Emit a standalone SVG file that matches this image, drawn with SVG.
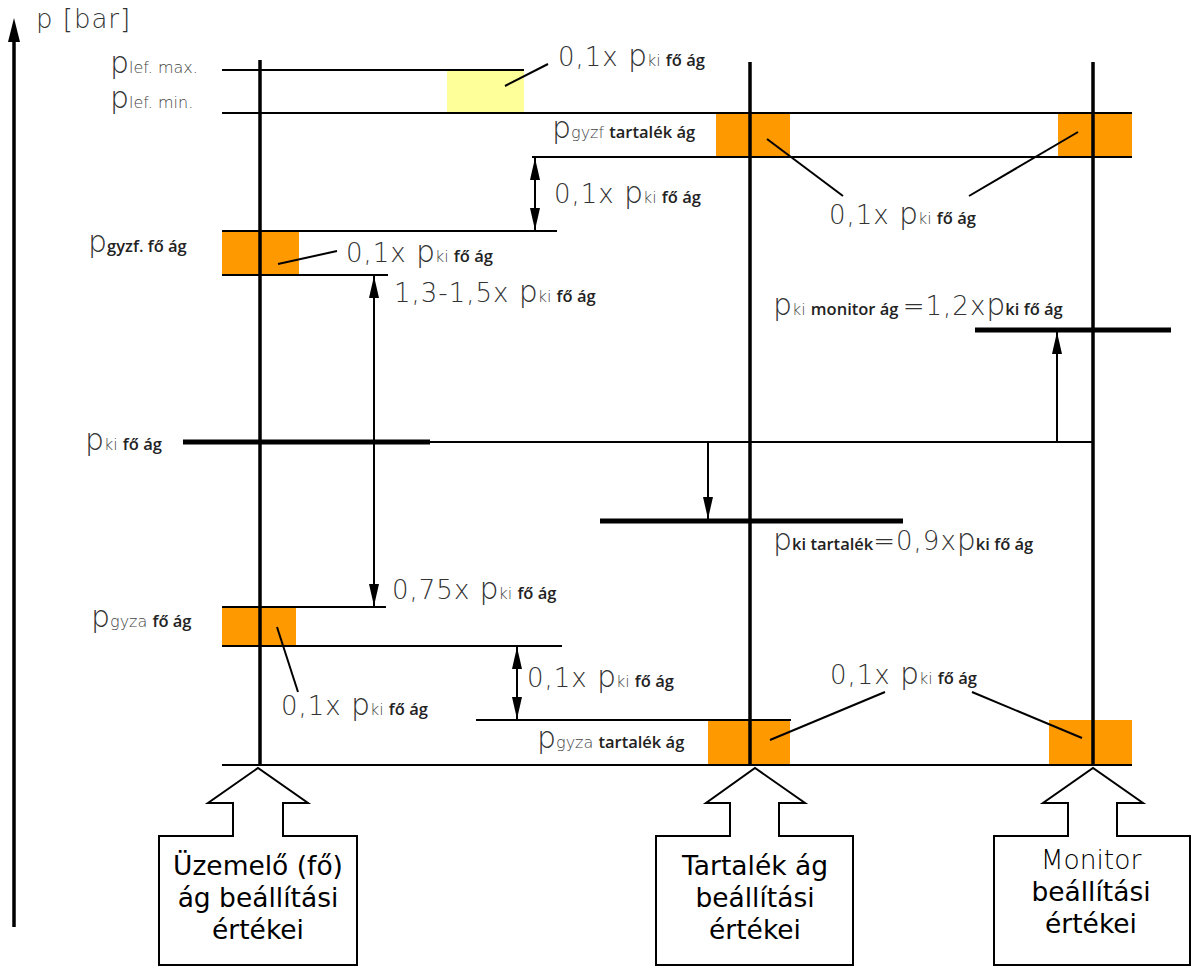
<svg xmlns="http://www.w3.org/2000/svg" width="1192" height="967" viewBox="0 0 1192 967">
<style>
.bg{fill:#fff}
.ln{stroke:#000;stroke-width:2;fill:none}
.vl{stroke:#000;stroke-width:3.5;fill:none}
.tk{stroke:#000;stroke-width:5;fill:none}
.or{fill:#ff9900}
.ye{fill:#ffff99}
.lt{font-family:"DejaVu Sans",sans-serif;font-weight:200;fill:#333;font-size:26px;letter-spacing:1px}
.pp{font-family:"DejaVu Sans",sans-serif;font-weight:200;fill:#333;font-size:30px}
.sb{font-family:"DejaVu Sans",sans-serif;font-weight:200;fill:#444;font-size:16px}
.bd{font-family:"Open Sans","Noto Sans","DejaVu Sans",sans-serif;font-weight:600;fill:#222;font-size:16.5px}
.bx{fill:#fff;stroke:#000;stroke-width:2}
.bt{font-family:"DejaVu Sans",sans-serif;font-size:26.5px;fill:#000;text-anchor:middle}
.ar{stroke:#000;stroke-width:2;fill:none}
</style>
<defs>
<marker id="ah" viewBox="0 0 22 10" refX="22" refY="5" markerWidth="22" markerHeight="10" markerUnits="userSpaceOnUse" orient="auto-start-reverse"><path d="M0,0 L22,5 L0,10 z" fill="#000"/></marker>
</defs>
<rect class="bg" x="0" y="0" width="1192" height="967"/>

<g id="axis">
<line x1="14" y1="927" x2="14" y2="40" stroke="#000" stroke-width="3.5"/>
<path d="M8,42 L14,18 L20,42 z" fill="#000"/>
<text class="lt" x="36" y="28" font-size="24">p [bar]</text>
</g>

<g id="fills">
<rect class="ye" x="447" y="70" width="77" height="43"/>
<rect class="or" x="716" y="113" width="74" height="44"/>
<rect class="or" x="1058" y="113" width="74" height="44"/>
<rect class="or" x="222" y="231" width="77" height="44"/>
<rect class="or" x="222" y="607" width="74" height="39"/>
<rect class="or" x="708" y="720" width="82" height="45"/>
<rect class="or" x="1049" y="720" width="83" height="45"/>
</g>

<g id="levels">
<line class="ln" x1="222" y1="70" x2="524" y2="70"/>
<line class="ln" x1="222" y1="113" x2="1132" y2="113"/>
<line class="ln" x1="532" y1="157" x2="1132" y2="157"/>
<line class="ln" x1="222" y1="231" x2="557" y2="231"/>
<line class="ln" x1="222" y1="275" x2="388" y2="275"/>
<line class="tk" x1="183" y1="442" x2="430" y2="442"/>
<line class="ln" x1="430" y1="442" x2="1093" y2="442"/>
<line class="tk" x1="975" y1="330" x2="1171" y2="330"/>
<line class="tk" x1="600" y1="521" x2="903" y2="521"/>
<line class="ln" x1="222" y1="607" x2="386" y2="607"/>
<line class="ln" x1="222" y1="646" x2="562" y2="646"/>
<line class="ln" x1="476" y1="720" x2="791" y2="720"/>
<line class="ln" x1="222" y1="765" x2="1132" y2="765"/>
</g>

<g id="branches">
<line class="vl" x1="260" y1="60" x2="260" y2="765"/>
<line class="vl" x1="750" y1="62" x2="750" y2="765"/>
<line class="vl" x1="1093" y1="62" x2="1093" y2="765"/>
</g>

<g id="connectors">
<line class="ar" x1="535" y1="158" x2="535" y2="230" marker-start="url(#ah)" marker-end="url(#ah)"/>
<line class="ar" x1="374" y1="276" x2="374" y2="606" marker-start="url(#ah)" marker-end="url(#ah)"/>
<line class="ar" x1="517" y1="647" x2="517" y2="719" marker-start="url(#ah)" marker-end="url(#ah)"/>
<line class="ar" x1="1057" y1="442" x2="1057" y2="332" marker-end="url(#ah)"/>
<line class="ar" x1="708" y1="442" x2="708" y2="519" marker-end="url(#ah)"/>
<line class="ar" x1="505" y1="86" x2="548" y2="64"/>
<line class="ar" x1="767" y1="139" x2="843" y2="196"/>
<line class="ar" x1="1078" y1="132" x2="969" y2="196"/>
<line class="ar" x1="278" y1="264" x2="337" y2="251"/>
<line class="ar" x1="277" y1="627" x2="298" y2="692"/>
<line class="ar" x1="770" y1="740" x2="885" y2="692"/>
<line class="ar" x1="972" y1="692" x2="1082" y2="738"/>
</g>

<g id="labels">
<text x="110" y="73"><tspan class="pp">p</tspan><tspan class="sb" font-size="15">lef. max.</tspan></text>
<text x="110" y="108"><tspan class="pp">p</tspan><tspan class="sb" font-size="15">lef. min.</tspan></text>
<text x="88" y="252"><tspan class="pp">p</tspan><tspan class="bd" font-weight="400">gyzf. fő ág</tspan></text>
<text x="85" y="450"><tspan class="pp">p</tspan><tspan class="sb">ki </tspan><tspan class="bd" font-weight="400">fő ág</tspan></text>
<text x="91" y="627"><tspan class="pp">p</tspan><tspan class="sb">gyza </tspan><tspan class="bd" font-weight="400">fő ág</tspan></text>
<text x="552" y="138"><tspan class="pp">p</tspan><tspan class="sb">gyzf </tspan><tspan class="bd">tartalék ág</tspan></text>
<text x="537" y="748"><tspan class="pp">p</tspan><tspan class="sb">gyza </tspan><tspan class="bd">tartalék ág</tspan></text>

<text x="558" y="66"><tspan class="lt">0,1x </tspan><tspan class="pp">p</tspan><tspan class="sb">ki </tspan><tspan class="bd">fő ág</tspan></text>
<text x="554" y="203"><tspan class="lt">0,1x </tspan><tspan class="pp">p</tspan><tspan class="sb">ki </tspan><tspan class="bd">fő ág</tspan></text>
<text x="829" y="224"><tspan class="lt">0,1x </tspan><tspan class="pp">p</tspan><tspan class="sb">ki </tspan><tspan class="bd">fő ág</tspan></text>
<text x="346" y="262"><tspan class="lt">0,1x </tspan><tspan class="pp">p</tspan><tspan class="sb">ki </tspan><tspan class="bd">fő ág</tspan></text>
<text x="394" y="302"><tspan class="lt">1,3-1,5x </tspan><tspan class="pp">p</tspan><tspan class="sb">ki </tspan><tspan class="bd">fő ág</tspan></text>
<text x="773" y="315"><tspan class="pp">p</tspan><tspan class="sb">ki </tspan><tspan class="bd" font-weight="400">monitor ág </tspan><tspan class="lt">=1,2x</tspan><tspan class="pp">p</tspan><tspan class="bd">ki fő ág</tspan></text>
<text x="773" y="550"><tspan class="pp">p</tspan><tspan class="bd" font-weight="400">ki tartalék</tspan><tspan class="lt">=0,9x</tspan><tspan class="pp">p</tspan><tspan class="bd" font-weight="400">ki fő ág</tspan></text>
<text x="392" y="599"><tspan class="lt">0,75x </tspan><tspan class="pp">p</tspan><tspan class="sb">ki </tspan><tspan class="bd">fő ág</tspan></text>
<text x="281" y="715"><tspan class="lt">0,1x </tspan><tspan class="pp">p</tspan><tspan class="sb">ki </tspan><tspan class="bd">fő ág</tspan></text>
<text x="527" y="687"><tspan class="lt">0,1x </tspan><tspan class="pp">p</tspan><tspan class="sb">ki </tspan><tspan class="bd">fő ág</tspan></text>
<text x="830" y="684"><tspan class="lt">0,1x </tspan><tspan class="pp">p</tspan><tspan class="sb">ki </tspan><tspan class="bd">fő ág</tspan></text>
</g>

<g id="box-main">
<path class="bx" d="M159,836 H233 V803 H208 L258,768 L308,803 H283 V836 H357 V965 H159 Z"/>
<text class="bt" x="258" y="875">Üzemelő (fő)</text>
<text class="bt" x="258" y="907">ág beállítási</text>
<text class="bt" x="258" y="939">értékei</text>
</g>

<g id="box-tartalek">
<path class="bx" d="M656,836 H730 V803 H706 L755,768 L805,803 H779 V836 H853 V965 H656 Z"/>
<text class="bt" x="755" y="875">Tartalék ág</text>
<text class="bt" x="755" y="907">beállítási</text>
<text class="bt" x="755" y="939">értékei</text>
</g>

<g id="box-monitor">
<path class="bx" d="M994,836 H1068 V803 H1043 L1093,768 L1143,803 H1117 V836 H1190 V965 H994 Z"/>
<text class="bt" x="1091" y="869" font-weight="200" fill="#444">Monitor</text>
<text class="bt" x="1091" y="901">beállítási</text>
<text class="bt" x="1091" y="933">értékei</text>
</g>
</svg>
